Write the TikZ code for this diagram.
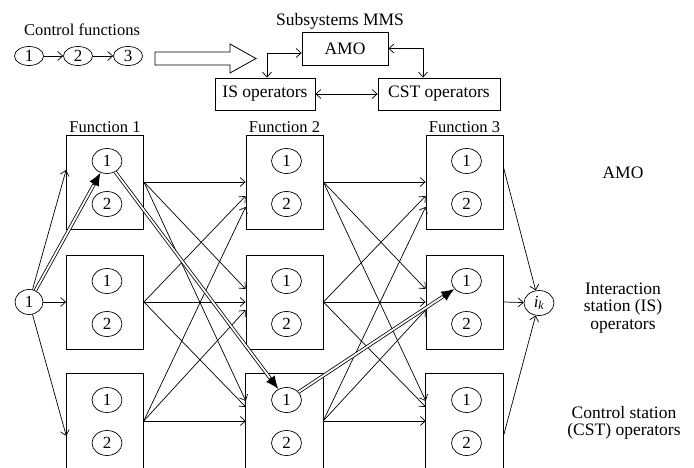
\documentclass[tikz,border=0pt]{standalone}
\usepackage{fontspec}
\setmainfont{Liberation Serif}
\usetikzlibrary{arrows.meta,calc,shapes.geometric}
\begin{document}
\begin{tikzpicture}[x=1pt,y=-1pt,
  lw/.style={line width=0.8pt},
  fbox/.style={draw, line width=0.8pt, minimum width=77pt, minimum height=94pt, inner sep=0},
  obox/.style={minimum width=77pt, minimum height=94pt, inner sep=0},
  el/.style={ellipse, draw, line width=0.7pt, minimum width=30pt, minimum height=25pt, inner sep=0, font=\fontsize{17}{17}\selectfont},
  sel/.style={ellipse, draw, line width=0.7pt, minimum width=29pt, minimum height=19pt, inner sep=0, font=\fontsize{17}{17}\selectfont},
  rbox/.style={draw, line width=0.8pt, inner sep=0, font=\fontsize{17.5}{17.5}\selectfont},
  arr/.style={line width=0.7pt, -{Straight Barb[length=5pt,width=9pt]}},
  barr/.style={line width=0.7pt, {Straight Barb[length=5pt,width=9pt]}-{Straight Barb[length=5pt,width=9pt]}},
  thk/.style={double, double distance=1.8pt, line width=0.8pt, shorten >=7pt},
  tip/.style={line width=1.5pt, -{Latex[length=13pt,width=11pt]}},
  lbl/.style={font=\fontsize{17.5}{17.5}\selectfont, align=center, inner sep=0},
  flbl/.style={font=\fontsize{16.5}{16.5}\selectfont, inner sep=0}
]
\useasboundingbox (0,0) rectangle (694,468);

% ---- top part ----
\node[flbl] (cf) at (82,30) {Control functions};
\node[sel] (c1) at (29,56) {1};
\node[sel] (c2) at (78,56) {2};
\node[sel] (c3) at (128,56) {3};
\draw[arr] (c1) -- (c2);
\draw[arr] (c2) -- (c3);
\draw[lw] (155,52) -- (230,52) -- (230,44) -- (256,58.5) -- (230,73) -- (230,65) -- (155,65) -- cycle;

\node[lbl] (mms) at (340,21) {Subsystems MMS};
\node[rbox, minimum width=86pt, minimum height=33pt] (amo) at (345,48.5) {AMO};
\node[rbox, minimum width=100pt, minimum height=32pt] (isop) at (265,94) {IS operators};
\node[rbox, minimum width=122pt, minimum height=32pt] (cst) at (439,94) {CST operators};
\draw[barr] ($(isop.north)+(2,0)$) |- ($(amo.west)+(0,4.5)$);
\draw[barr] (amo.east) -| ($(cst.north)+(-16,0)$);
\draw[barr] (isop.east) -- (cst.west);

% ---- function boxes ----
\foreach \c/\x in {1/105,2/284.5,3/464.5}{
  \node[fbox] (b\c1) at (\x,182) {};
  \node[fbox] (b\c2) at (\x,302) {};
  \node[obox] (b\c3) at (\x,421) {};
  \draw[lw] (b\c3.south west) -- (b\c3.north west) -- (b\c3.north east) -- (b\c3.south east);
  \foreach \r/\y in {1/182,2/302,3/421}{
    \node[el] (e\c\r1) at (\x+2,\y-21) {1};
    \node[el] (e\c\r2) at (\x+2,\y+22) {2};
  }
}
\node[flbl] (f1) at (105,127) {Function 1};
\node[flbl] (f2) at (284.5,127) {Function 2};
\node[flbl] (f3) at (464.5,127) {Function 3};

% ---- source and sink ----
\node[el, minimum width=28pt] (s) at (29,302) {1};
\node[el] (ik) at (539,303) {\itshape i\textsubscript{k}};

\draw[arr] (s) -- ($(b11.west)+(0,-12)$);
\draw[arr] (s) -- (b12.west);
\draw[arr] (s) -- ($(b13.west)+(0,15)$);

\foreach \c/\n in {1/2,2/3}{
  \foreach \i/\j/\o in {1/1/0,2/1/14,3/1/25,1/2/-13,2/2/0,3/2/8,1/3/-20,2/3/-14,3/3/0}{
    \draw[arr] (b\c\i.east) -- ($(b\n\j.west)+(0,\o)$);
  }
}

\draw[arr] ($(b31.east)+(0,-15)$) -- (ik);
\draw[arr] (b32.east) -- (ik);
\draw[arr] ($(b33.east)+(0,16)$) -- (ik);

% ---- highlighted path ----
\path (s) -- (e111) coordinate[pos=1] (t1);
\path (e111) -- (e231) coordinate[pos=1] (t2);
\path (e231) -- (e321) coordinate[pos=1] (t3);
\draw[thk] (s) -- (t1);
\draw[thk] (e111) -- (t2);
\draw[thk] (e231) -- (t3);
\draw[tip] ($(t1)!14pt!(s)$) -- (t1);
\draw[tip] ($(t2)!14pt!(e111)$) -- (t2);
\draw[tip] ($(t3)!14pt!(e231)$) -- (t3);

% ---- right labels ----
\node[lbl] (lamo) at (623,173) {AMO};
\node[lbl] (lis) at (623,308) {Interaction\\station (IS)\\operators};
\node[lbl] (lcst) at (624,423) {Control station\\(CST) operators};
\end{tikzpicture}
\end{document}
